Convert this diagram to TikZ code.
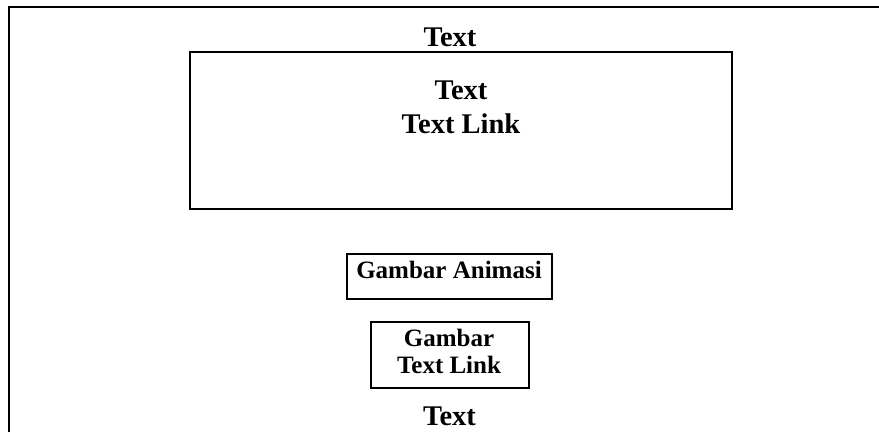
\documentclass[tikz,border=0pt]{standalone}
\usepackage{fontspec}
\setmainfont{Liberation Serif}
\usepackage{tikz}
\usetikzlibrary{positioning}

\begin{document}
\begin{tikzpicture}[x=1pt, y=-1pt]
  \tikzset{BOX/.style={draw, line width=1.6pt, inner sep=0pt, outer sep=0pt} }
  \tikzset{BIG/.style={font=\bfseries\fontsize{28.5}{34}\selectfont, align=center, inner sep=0pt, anchor=base} }
  \tikzset{SMALL/.style={font=\bfseries\fontsize{25}{27}\selectfont, align=center, inner sep=0pt, anchor=base} }

  \useasboundingbox (0,0) rectangle (879,432);

  % page frame
  \coordinate (frameBL) at (9,432);
  \coordinate (frameTL) at (9,7);
  \coordinate (frameTR) at (879,7);
  \draw[line width=1.8pt] (frameBL) -- (frameTL) -- (frameTR);

  \node[BIG] (title) at (450,46) {Text};

  \node[BOX, minimum width=542, minimum height=157] (content) at (461,130.5) {};
  \node[BIG] (contentText) at (461,133) {Text\\Text Link};

  \node[BOX, minimum width=205, minimum height=45] (anim) at (449.5,276.5) {};
  \node[SMALL] (animText) at (449,278) {Gambar Animasi};

  \node[BOX, minimum width=158, minimum height=66] (link) at (450,355) {};
  \node[SMALL] (linkText) at (449,373) {Gambar\\Text Link};

  \node[BIG] (footer) at (449.5,425) {Text};
\end{tikzpicture}
\end{document}
